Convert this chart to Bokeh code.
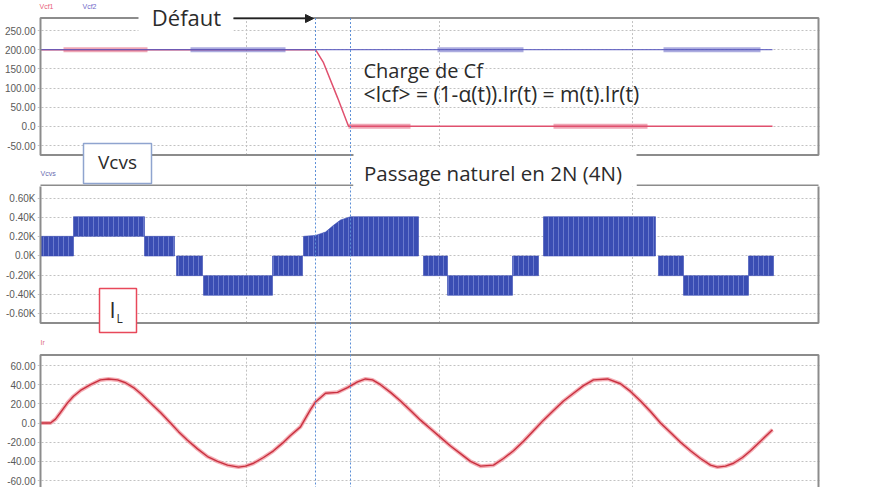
from bokeh.plotting import figure
from bokeh.layouts import column
from bokeh.models import FixedTicker, Span, Arrow, NormalHead
from bokeh.core.properties import value
from bokeh.embed import file_html
from bokeh.resources import INLINE

# ---------------- data (time in ms) ----------------
# Panel 1 : capacitor voltages Vcf1 / Vcf2
t_vcf1 = [0.0, 27.5, 28.3, 29.7, 30.8, 73.2]
vcf1 = [200, 200, 166, 75, 0, 0]
t_vcf2 = [0.0, 73.2]
vcf2 = [200, 200]
# switching-ripple intervals (start, end, level)
vcf1_ripple = [(2.3, 10.7, 200), (30.8, 37.0, 0), (51.3, 60.7, 0)]
vcf2_ripple = [(15.0, 24.5, 200), (39.7, 48.3, 200), (62.3, 72.0, 200)]

# Panel 2 : Vcvs multilevel PWM bands (start, end, low, high)
vcvs_bands = [
    (0.0, 3.3, 0, 205), (3.3, 10.4, 205, 410), (10.4, 13.4, 0, 205),
    (13.6, 16.2, -205, 0), (16.3, 23.2, -410, -205), (23.2, 26.2, -205, 0),
    (38.3, 40.7, -205, 0), (40.7, 47.2, -410, -205), (47.2, 49.8, -205, 0),
    (50.3, 61.5, 0, 410), (61.8, 64.3, -205, 0), (64.3, 70.8, -410, -205),
    (70.8, 73.3, -205, 0),
]
# transition after the fault (envelope of the band)
vcvs_ramp_t = [26.3, 26.3, 27.5, 28.5, 29.3, 30.0, 31.0, 37.8, 37.8]
vcvs_ramp_v = [0, 205, 215, 250, 320, 375, 410, 410, 0]

# Panel 3 : IL current
t_il = [0.0, 1.0, 1.5, 2.0, 2.7, 3.3, 4.0, 5.0, 6.0, 6.8, 7.7, 8.5, 9.3, 10.1,
        11.0, 12.0, 13.0, 13.8, 14.7, 15.7, 16.7, 17.7, 18.7, 19.8, 20.5, 21.3,
        22.3, 23.3, 24.2, 25.0, 26.0, 27.0, 27.5, 28.5, 29.7, 30.7, 31.7, 32.5,
        33.2, 34.0, 35.0, 36.0, 37.0, 38.0, 39.0, 40.0, 41.0, 42.0, 43.0, 44.0,
        45.3, 46.3, 47.3, 48.3, 49.3, 50.3, 51.3, 52.3, 53.3, 54.3, 55.3, 56.7,
        58.0, 59.0, 60.0, 61.0, 62.0, 63.0, 64.0, 65.0, 66.0, 67.0, 67.7, 68.5,
        69.3, 70.2, 71.0, 72.0, 73.2]
il = [0, 0, 4, 11, 21, 28, 34, 40, 45, 46, 45, 42, 37, 30,
      21, 11, 0, -9, -18, -27, -35, -40, -44, -46, -45, -42,
      -36, -29, -21, -13, -4, 14, 22, 31, 32, 37, 43, 46,
      45, 40, 32, 23, 13, 3, -6, -15, -24, -32, -40, -45,
      -44, -37, -29, -19, -8, 3, 13, 23, 31, 39, 45, 46,
      41, 33, 23, 12, 0, -10, -20, -29, -37, -44, -46, -45,
      -42, -36, -29, -19, -7]

fault_t = [27.5, 31.0]
vgrid_t = [20.6, 39.9, 59.2]

ticks1 = [250, 200, 150, 100, 50, 0, -50]
labels1 = ["250.00", "200.00", "150.00", "100.00", "50.00", "0.0", "-50.00"]
ticks2 = [600, 400, 200, 0, -200, -400, -600]
labels2 = ["0.60K", "0.40K", "0.20K", "0.0K", "-0.20K", "-0.40K", "-0.60K"]
ticks3 = [60, 40, 20, 0, -20, -40, -60]
labels3 = ["60.00", "40.00", "20.00", "0.0", "-20.00", "-40.00", "-60.00"]

# ---------------- styles / layout ----------------
W = 870
X_RANGE = (-0.3, 78.1)
BOX_L, BOX_R = 0.0, 77.8
GRID_C = "#c2c2c2"
BOX_C = "#8c8c8c"
FAULT_C = "#5b8ed6"
TXT_C = "#2b2b2b"
FONT = value("Open Sans")
RED = "#e0506e"
BLUE = "#5a5ac0"
VCVS_C = "#3a4db3"
PASS_L, PASS_R = 31.3, 59.6


def make_fig(h, yr, ticks, labels):
    p = figure(width=W, height=h, x_range=X_RANGE, y_range=yr,
               output_backend="svg", toolbar_location=None,
               x_axis_location=None, min_border_left=37, min_border_right=49,
               min_border_top=0, min_border_bottom=0)
    p.outline_line_color = None
    p.background_fill_color = "white"
    p.border_fill_color = "white"
    p.xgrid.visible = False
    p.yaxis.ticker = FixedTicker(ticks=ticks)
    p.yaxis.major_label_overrides = {t: l for t, l in zip(ticks, labels)}
    p.yaxis.axis_line_color = None
    p.yaxis.major_tick_line_color = None
    p.yaxis.minor_tick_line_color = None
    p.yaxis.major_tick_out = 0
    p.yaxis.major_label_standoff = 2
    p.yaxis.major_label_text_font = "Liberation Sans"
    p.yaxis.major_label_text_font_size = "10px"
    p.yaxis.major_label_text_color = "#5a5a5a"
    p.ygrid.ticker = FixedTicker(ticks=ticks)
    p.ygrid.grid_line_color = GRID_C
    p.ygrid.grid_line_dash = "2 2"
    return p


def panel_frame(p, bottom, top):
    p.segment(x0=vgrid_t, y0=[bottom] * len(vgrid_t), x1=vgrid_t,
              y1=[top] * len(vgrid_t), line_color=GRID_C, line_dash="2 2")


def panel_border(p, bottom, top):
    p.quad(left=[BOX_L], right=[BOX_R], bottom=[bottom], top=[top],
           fill_color=None, line_color=BOX_C, line_width=2)


def small(p, x, y, txt, color):
    p.text(x=[x], y=[y], text=[txt], text_font=value("Liberation Sans"),
           text_font_size=value("7px"), text_color=color,
           text_baseline="alphabetic")


# ---------------- panel 1 ----------------
Y1 = (-156.9, 328.3)
p1 = make_fig(186, Y1, ticks1, labels1)
b1_bot, b1_top = -74.9, 282.5
panel_frame(p1, b1_bot, b1_top)
p1.line(t_vcf1, vcf1, line_color=RED, line_width=1.5)
p1.segment(x0=[r[0] for r in vcf1_ripple], x1=[r[1] for r in vcf1_ripple],
           y0=[r[2] for r in vcf1_ripple], y1=[r[2] for r in vcf1_ripple],
           line_color=RED, line_width=5, line_alpha=0.5)
p1.line(t_vcf2, vcf2, line_color=BLUE, line_width=1.2, line_alpha=0.85)
p1.segment(x0=[r[0] for r in vcf2_ripple], x1=[r[1] for r in vcf2_ripple],
           y0=[r[2] for r in vcf2_ripple], y1=[r[2] for r in vcf2_ripple],
           line_color=BLUE, line_width=5, line_alpha=0.5)
panel_border(p1, b1_bot, b1_top)
# top edge of the Vcvs panel (falls just inside this canvas)
p1.segment(x0=[BOX_L, PASS_R], x1=[PASS_L, BOX_R], y0=[-154.3] * 2, y1=[-154.3] * 2,
           line_color=BOX_C, line_width=2)
p1.segment(x0=fault_t, x1=fault_t, y0=[b1_top] * 2, y1=[Y1[0]] * 2,
           line_color=FAULT_C, line_dash="2 2", line_width=1)
# white boxes
p1.quad(left=[9.8], right=[19.3], bottom=[247.3], top=[317.7],
        fill_color="white", line_color=None)
p1.quad(left=[PASS_L], right=[PASS_R], bottom=[-170], top=[-60.5],
        fill_color="white", line_color=None)
p1.quad(left=[4.3], right=[11.1], bottom=[-149.2], top=[-44.8],
        fill_color="white", line_color="#8fa4cf", line_width=1.5)
p1.add_layout(Arrow(end=NormalHead(size=8, fill_color="#222222", line_color="#222222"),
                    x_start=19.3, y_start=281.3, x_end=27.3, y_end=281.3,
                    line_color="#222222", line_width=1.5))
p1.text(x=[14.6], y=[284.0], text=["Défaut"], text_font=FONT,
        text_font_size=value("22px"), text_color=TXT_C, text_align="center",
        text_baseline="alphabetic")
p1.text(x=[32.3], y=[147.0], text=["Charge de Cf"],
        text_font=FONT, text_font_size=value("20px"), text_color=TXT_C,
        text_align="left", text_baseline="alphabetic")
p1.text(x=[32.3], y=[83.1], text=["<Icf> = (1-\u03b1(t)).Ir(t)   = m(t).Ir(t)"],
        text_font=FONT, text_font_size=value("21px"), text_color=TXT_C,
        text_align="left", text_baseline="alphabetic")
p1.text(x=[45.25], y=[-120.4], text=["Passage naturel en 2N (4N)"], text_font=FONT,
        text_font_size=value("20.5px"), text_color=TXT_C, text_align="center",
        text_baseline="alphabetic")
p1.text(x=[7.7], y=[-93.3], text=["Vcvs"], text_font=FONT,
        text_font_size=value("19px"), text_color=TXT_C, text_align="center",
        text_baseline="alphabetic")
small(p1, -0.1, 312.1, "Vcf1", "#e8607a")
small(p1, 4.2, 312.1, "Vcf2", "#7068c8")
small(p1, 0.0, -123.5, "Vcvs", "#6a6ab0")

# ---------------- panel 2 ----------------
Y2 = (-860.9, 725.2)
p2 = make_fig(152, Y2, ticks2, labels2)
b2_bot, b2_top = -699.1, 760.0
panel_frame(p2, b2_bot, b2_top)
p2.quad(left=[b[0] for b in vcvs_bands], right=[b[1] for b in vcvs_bands],
        bottom=[b[2] for b in vcvs_bands], top=[b[3] for b in vcvs_bands],
        fill_color=VCVS_C, line_color=VCVS_C, line_width=0.6,
        hatch_pattern="|", hatch_color="#9aa8e8", hatch_scale=5,
        hatch_weight=1, hatch_alpha=0.5)
p2.patch(vcvs_ramp_t, vcvs_ramp_v, fill_color=VCVS_C, line_color=VCVS_C,
         line_width=0.6, hatch_pattern="|", hatch_color="#9aa8e8",
         hatch_scale=5, hatch_weight=1, hatch_alpha=0.5)
panel_border(p2, b2_bot, b2_top)
p2.quad(left=[PASS_L], right=[PASS_R], bottom=[683.5], top=[780],
        fill_color="white", line_color=None)
for ft in fault_t:
    p2.add_layout(Span(location=ft, dimension="height", line_color=FAULT_C,
                       line_dash="2 2", line_width=1))
p2.quad(left=[5.9], right=[9.6], bottom=[-798.3], top=[-339.1],
        fill_color="white", line_color="#e8485a", line_width=1.5)
p2.text(x=[6.9], y=[-549.9], text=["I"], text_font=FONT,
        text_font_size=value("22px"), text_color=TXT_C, text_baseline="alphabetic")
p2.text(x=[7.6], y=[-654.3], text=["L"], text_font=FONT,
        text_font_size=value("12px"), text_color=TXT_C, text_baseline="alphabetic")

# ---------------- panel 3 ----------------
p3 = make_fig(149, (-67.3, 88.2), ticks3, labels3)
b3_bot, b3_top = -80.0, 71.0
panel_frame(p3, b3_bot, b3_top)
p3.line(t_il, il, line_color="#ec7a86", line_width=4, line_alpha=0.6)
p3.line(t_il, il, line_color="#c9303f", line_width=1.4)
panel_border(p3, b3_bot, b3_top)
for ft in fault_t:
    p3.add_layout(Span(location=ft, dimension="height", line_color=FAULT_C,
                       line_dash="2 2", line_width=1))
small(p3, 0.0, 83.8, "Ir", "#e07080")

layout = column(p1, p2, p3, spacing=0)
open("out.html", "w").write(file_html(layout, INLINE))
